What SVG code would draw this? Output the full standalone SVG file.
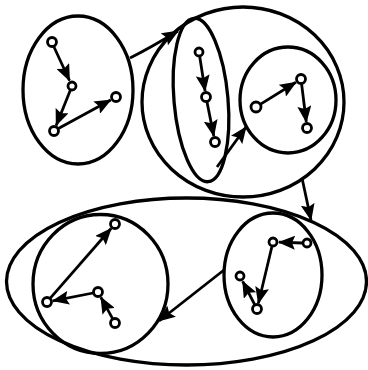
<svg xmlns="http://www.w3.org/2000/svg" width="368" height="370" viewBox="0 0 368 370">
<style>
.grp{fill:none;stroke:#000;stroke-width:3.3}
.node{fill:#fff;stroke:#000;stroke-width:2.8}
.edge{fill:none;stroke:#000;stroke-width:2.8;marker-end:url(#ah)}
</style>
<defs>
<marker id="ah" markerUnits="userSpaceOnUse" markerWidth="17" markerHeight="14" refX="16" refY="7" orient="auto">
<path d="M0,0 L17,7 L0,14 L3,7 Z" fill="#000"/>
</marker>
</defs>
<rect width="368" height="370" fill="#fff"/>
<g id="groups">
<ellipse id="g-topleft" class="grp" cx="78" cy="90" rx="55" ry="74"/>
<ellipse id="g-topbig" class="grp" cx="243" cy="102" rx="101" ry="95"/>
<ellipse id="g-tall" class="grp" cx="201" cy="100" rx="27" ry="82" transform="rotate(-5 201 100)"/>
<ellipse id="g-right" class="grp" cx="288" cy="100" rx="48" ry="53"/>
<ellipse id="g-bottombig" class="grp" cx="186.5" cy="281.5" rx="180" ry="83.5"/>
<ellipse id="g-bottomleft" class="grp" cx="100.5" cy="284" rx="67.5" ry="69.5"/>
<ellipse id="g-bottomright" class="grp" cx="273" cy="275" rx="49" ry="62"/>
</g>
<g id="connectors">
<path class="edge" d="M130,58 Q150,48 178,31"/>
<line class="edge" x1="217" y1="167" x2="246" y2="127"/>
<line class="edge" x1="302" y1="178" x2="311" y2="220"/>
<line class="edge" x1="224" y1="270" x2="159" y2="321"/>
<line class="edge" x1="54" y1="47" x2="69.5" y2="80.5"/>
<line class="edge" x1="70.5" y1="89.7" x2="56.2" y2="125.4"/>
<line class="edge" x1="58.4" y1="128.6" x2="110.7" y2="99.9"/>
<line class="edge" x1="199.8" y1="57" x2="205.1" y2="91.1"/>
<line class="edge" x1="207" y1="102" x2="213.8" y2="136.1"/>
<line class="edge" x1="260.2" y1="104.4" x2="295.9" y2="82.2"/>
<line class="edge" x1="301.6" y1="84" x2="306.3" y2="122"/>
<line class="edge" x1="302" y1="243" x2="279" y2="242.2"/>
<line class="edge" x1="271.8" y1="247" x2="258.4" y2="303.2"/>
<line class="edge" x1="254.7" y1="304.6" x2="242.7" y2="281.3"/>
<line class="edge" x1="50.3" y1="298.2" x2="111.1" y2="228.5"/>
<line class="edge" x1="93.1" y1="293" x2="52.9" y2="300.8"/>
<line class="edge" x1="112.6" y1="318.6" x2="100.9" y2="297.3"/>
</g>
<g id="n1"><circle class="node" cx="52" cy="42" r="4.5"/></g>
<g id="n2"><circle class="node" cx="72" cy="86" r="4"/></g>
<g id="n3"><circle class="node" cx="54" cy="131" r="4.5"/></g>
<g id="n4"><circle class="node" cx="116" cy="97" r="4.5"/></g>
<g id="n5"><circle class="node" cx="199" cy="52" r="4"/></g>
<g id="n6"><circle class="node" cx="206" cy="97" r="4.5"/></g>
<g id="n7"><circle class="node" cx="215" cy="142" r="4.5"/></g>
<g id="n8"><circle class="node" cx="256" cy="107" r="5"/></g>
<g id="n9"><circle class="node" cx="301" cy="79" r="4.5"/></g>
<g id="n10"><circle class="node" cx="307" cy="128" r="4.5"/></g>
<g id="n11"><circle class="node" cx="307" cy="243" r="4"/></g>
<g id="n12"><circle class="node" cx="273" cy="242" r="4"/></g>
<g id="n13"><circle class="node" cx="240" cy="276" r="4"/></g>
<g id="n14"><circle class="node" cx="257" cy="309" r="4.5"/></g>
<g id="n15"><circle class="node" cx="115" cy="224" r="4.5"/></g>
<g id="n16"><circle class="node" cx="47" cy="302" r="4.5"/></g>
<g id="n17"><circle class="node" cx="98" cy="292" r="4.5"/></g>
<g id="n18"><circle class="node" cx="115" cy="323" r="4.5"/></g>
</svg>
